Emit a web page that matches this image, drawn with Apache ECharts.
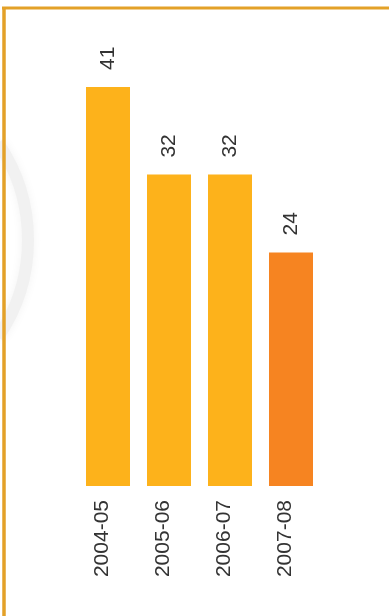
<!DOCTYPE html>
<html>
<head>
<meta charset="utf-8">
<script src="https://cdn.jsdelivr.net/npm/echarts@6/dist/echarts.min.js"></script>
<style>
html,body{margin:0;padding:0;background:#fff;}
#c{width:389px;height:616px;}
</style>
</head>
<body>
<div id="c"></div>
<script>
const categories = ['2004-05', '2005-06', '2006-07', '2007-08'];
const values = [41, 32, 32, 24];
const barColors = ['#FDB21B', '#FDB21B', '#FDB21B', '#F68421'];

const chart = echarts.init(document.getElementById('c'), null, {renderer: 'canvas'});
chart.setOption({
  animation: false,
  backgroundColor: '#ffffff',
  graphic: [
    {type: 'arc', shape: {cx: -144, cy: 240, r: 172, startAngle: -0.6, endAngle: 0.6},
     style: {stroke: '#f1f1f1', lineWidth: 12, fill: null, shadowBlur: 10, shadowColor: '#f3f3f3'}, z: -10},
    {type: 'line', shape: {x1: 2, y1: 8, x2: 389, y2: 8}, style: {stroke: '#E3A128', lineWidth: 3}},
    {type: 'line', shape: {x1: 4, y1: 7, x2: 4, y2: 616}, style: {stroke: '#E3A128', lineWidth: 3.5}}
  ],
  grid: {left: 77.5, right: 67.5, top: 87, bottom: 130, containLabel: false},
  xAxis: {
    type: 'category',
    data: categories,
    axisLine: {show: false},
    axisTick: {show: false},
    axisLabel: {
      rotate: 90, margin: 14, fontSize: 21, color: '#333333',
      fontFamily: 'Liberation Sans, Arial, sans-serif',
      verticalAlign: 'bottom', lineHeight: 12
    }
  },
  yAxis: {
    type: 'value', min: 0, max: 41, show: false,
    splitLine: {show: false}
  },
  series: [{
    type: 'bar',
    barWidth: 44,
    data: values.map((v, i) => ({value: v, itemStyle: {color: barColors[i]}})),
    label: {
      show: true, position: 'top', rotate: 90, distance: 17,
      align: 'left', verticalAlign: 'middle',
      fontSize: 21, color: '#333333',
      fontFamily: 'Liberation Sans, Arial, sans-serif'
    }
  }]
});
</script>
</body>
</html>
